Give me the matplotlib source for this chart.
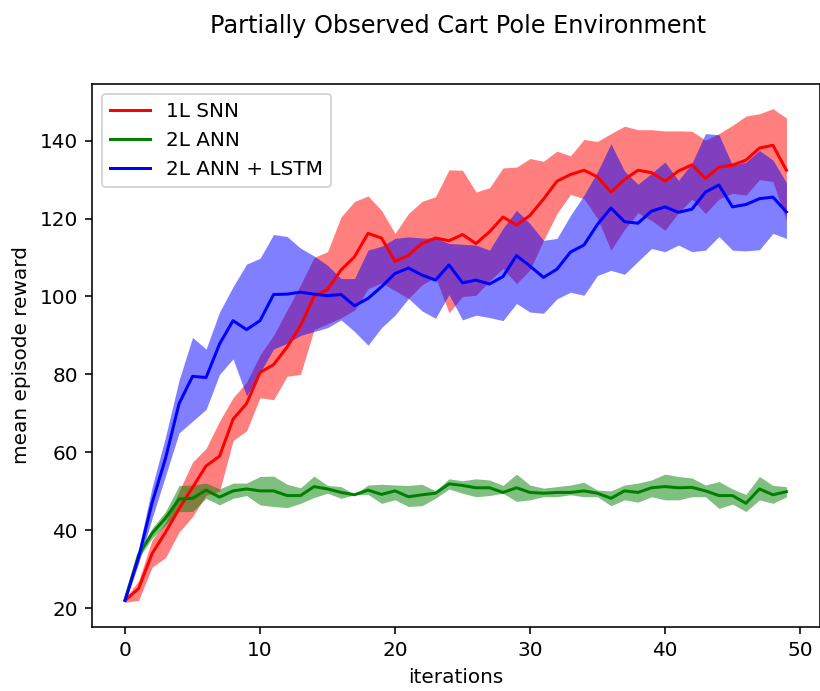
import numpy as np
import matplotlib
matplotlib.use('Agg')
import matplotlib.pyplot as plt

# iterations
iters = np.arange(50)

# 1L SNN (red)
snn_mean = [22, 25, 34, 39.5, 45.5, 51, 56.5, 59, 68.5, 72.5,
            80.5, 82.5, 87, 92.5, 100, 101.8, 106.8, 110.2, 116.2, 115,
            109, 110.6, 113.6, 115, 114.3, 115.9, 113.6, 116.6, 120.4, 118.3,
            120.8, 125, 129.6, 131.3, 132.4, 130.7, 126.8, 130, 132.4, 131.8,
            129.6, 132.2, 133.8, 130.3, 133.2, 133.7, 135, 138.1, 138.8, 132.4]
snn_upper = [22.5, 27, 37.5, 42, 50, 57.5, 61, 68, 74, 78,
             85, 90, 96.5, 103, 110, 111.5, 120.4, 124.4, 125.8, 122.1,
             116.2, 121.3, 124.4, 125.6, 132.5, 132.4, 126.8, 127.9, 133, 133.2,
             135.4, 134.7, 137.3, 136.1, 140.3, 139.8, 141.8, 143.7, 142.8, 142.8,
             142.5, 142.5, 142.4, 140.1, 141.8, 143.9, 146.3, 146.9, 148.2, 145.8]
snn_lower = [21.5, 22, 30.5, 33, 39.5, 43.5, 49, 50, 63, 65.5,
             74, 73.5, 79.5, 80, 91.5, 93, 94.5, 96.5, 102, 103.5,
             101.5, 99.5, 103, 105, 95.8, 100, 100.3, 104, 107.2, 103.3,
             106.8, 114.4, 121.3, 126.2, 125.1, 120, 111.9, 117.2, 121.5, 119.5,
             117, 121.5, 125, 121.3, 125, 126.5, 126, 130, 129.5, 119.4]

# 2L ANN (green)
ann_mean = [22.1, 33.7, 39.2, 43.1, 48, 48.2, 50.3, 48.5, 50.1, 50.6,
            50.1, 50.1, 48.9, 48.9, 51.2, 50.6, 49.7, 49.1, 50.3, 49.2,
            50.1, 48.6, 49.1, 49.5, 51.9, 51.5, 50.9, 50.9, 49.7, 50.9,
            49.7, 49.5, 49.7, 49.7, 50.1, 49.5, 48.2, 50.1, 49.7, 50.9,
            51.2, 50.9, 51, 50.1, 48.9, 48.9, 46.9, 50.6, 49.1, 49.9]
ann_upper = [22.5, 34.1, 40.5, 44.8, 51.5, 51.6, 52.1, 50.6, 52.1, 52.1,
             53.8, 53.9, 51.8, 50.9, 53.9, 51.5, 51.2, 49.2, 51.6, 51.8,
             51.6, 51.5, 51.8, 50.1, 53.2, 52.7, 53.2, 52.9, 51.5, 54.4,
             51.6, 50.8, 51.2, 51.6, 52.3, 50.3, 50.1, 51.6, 52.1, 52.9,
             54.4, 53.8, 53.4, 51.6, 52.5, 50.6, 49.2, 53.8, 51.5, 51.2]
ann_lower = [21.6, 32.8, 37.9, 41.4, 44.8, 44.8, 48.2, 46.5, 48.2, 48.9,
             46.5, 46.1, 45.8, 46.9, 48.4, 49.5, 48.2, 49.1, 49.2, 46.9,
             47.8, 46.1, 46.3, 48.2, 50.6, 49.5, 48.6, 48.9, 49.5, 47.4,
             47.8, 48.6, 48.6, 49.1, 48.6, 48.6, 46.3, 47.8, 47.2, 48.6,
             47.8, 47.8, 48.6, 48.6, 45.6, 46.7, 44.8, 47.8, 46.9, 48.6]

# 2L ANN + LSTM (blue)
lstm_mean = [22, 33, 47, 58.5, 72.5, 79.5, 79.2, 87.8, 93.8, 91.5,
             93.8, 100.5, 100.6, 101.1, 100.6, 100.2, 100.5, 97.6, 99.5, 102.5,
             105.9, 107.3, 105.5, 104.2, 108.1, 103.5, 104.2, 103.2, 105.1, 110.5,
             107.8, 104.9, 107, 111.4, 113.2, 118.5, 122.7, 119.2, 118.8, 121.9,
             123, 121.6, 122.4, 126.8, 128.6, 123, 123.6, 125.1, 125.5, 121.7]
lstm_upper = [22.5, 35, 51, 64, 78.5, 89.5, 86.5, 96, 102.5, 108.3,
              109.8, 115.9, 115.4, 112.4, 110.4, 108, 104.6, 104.6, 111.9, 112.9,
              114.9, 115.3, 115, 115, 113.6, 113.4, 113.2, 111.9, 117.5, 122.1,
              118.7, 114.4, 114.9, 120.8, 126, 132, 139.2, 132.2, 128.8, 131.6,
              134.5, 129.8, 134.2, 141.8, 141.5, 133.7, 134.5, 137.5, 135, 129.2]
lstm_lower = [21.5, 31.5, 43, 54, 65, 68, 71, 80, 84, 74.5,
              80.5, 86.5, 88, 90, 91, 92, 94, 91, 87.5, 92,
              95.2, 99.5, 96.3, 94.4, 100.5, 94, 95.2, 94.6, 93.8, 98.2,
              96, 95.7, 99.4, 101.1, 100.3, 105.4, 106.7, 105.7, 109, 112.3,
              111.5, 113.2, 111.5, 111.9, 115.4, 111.9, 111.7, 112, 116.2, 114.9]

fig = plt.figure(figsize=(820 / 144, 691 / 144), dpi=144)
ax = fig.add_axes([92 / 820, 64 / 691, 727.5 / 820, 543 / 691])

# bands first, lines on top
ax.fill_between(iters, snn_lower, snn_upper, color='r', alpha=0.5, linewidth=0)
ax.fill_between(iters, ann_lower, ann_upper, color='g', alpha=0.5, linewidth=0)
ax.fill_between(iters, lstm_lower, lstm_upper, color='b', alpha=0.5, linewidth=0)

ax.plot(iters, snn_mean, color='r', label='1L SNN')
ax.plot(iters, ann_mean, color='g', label='2L ANN')
ax.plot(iters, lstm_mean, color='b', label='2L ANN + LSTM')

ax.set_xlabel('iterations')
ax.set_ylabel('mean episode reward')
ax.legend(loc='upper left')
fig.text(458 / 820, 1 - 14 / 691, 'Partially Observed Cart Pole Environment',
         ha='center', va='top', fontsize=12)

fig.savefig('out.png', dpi=144)
